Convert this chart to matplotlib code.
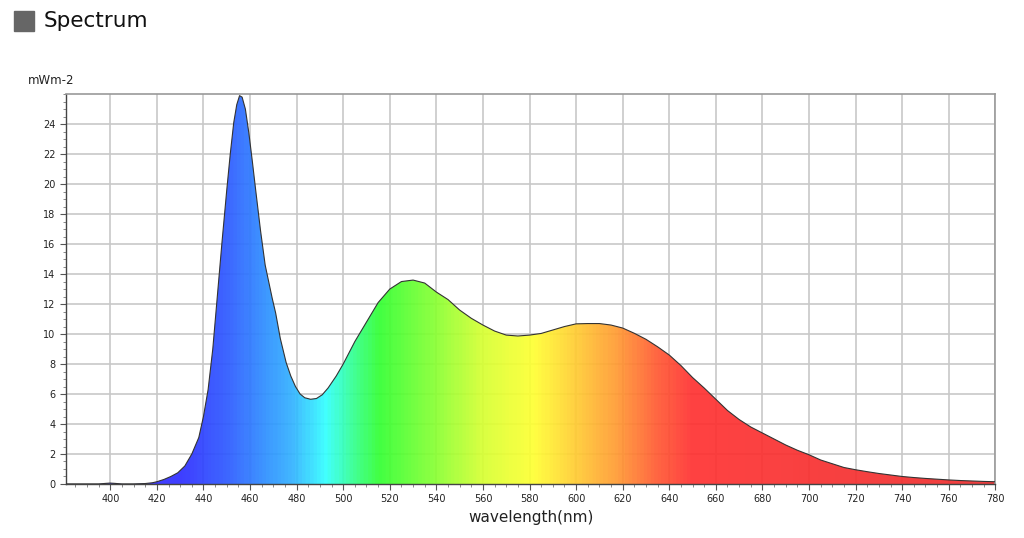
import numpy as np
import matplotlib
matplotlib.use("Agg")
import matplotlib.pyplot as plt
from matplotlib.colors import LinearSegmentedColormap
from matplotlib.patches import Rectangle

# spectrum (nm, mW m-2)
wavelength = [381, 390, 395, 398, 400, 402, 405, 410, 415, 418, 420, 423, 426,
              429, 432, 435, 438, 440, 442, 444, 446, 448, 450, 451.5, 453,
              454.3, 455.5, 456.6, 458, 459.5, 461, 462.5, 464.5, 466.5, 468,
              469.5, 471, 473, 475.5, 477.5, 479.5, 481.5, 483.5, 486, 488.5,
              491, 493.5, 497, 500, 505, 510, 515, 520, 525, 530, 535, 540,
              545, 550, 555, 560, 565, 570, 575, 580, 585, 590, 595, 600, 605,
              610, 615, 620, 625, 630, 635, 640, 645, 650, 655, 660, 665, 670,
              675, 680, 685, 690, 695, 700, 705, 710, 715, 720, 725, 730, 735,
              740, 745, 750, 755, 760, 765, 770, 775, 780]
power = [0.0, 0.0, 0.0, 0.04, 0.06, 0.04, 0.0, 0.0, 0.03, 0.08, 0.15, 0.3, 0.5,
         0.75, 1.2, 2.0, 3.1, 4.5, 6.3, 9.0, 12.6, 16.2, 19.6, 22.0, 24.1,
         25.3, 25.9, 25.8, 25.0, 23.4, 21.5, 19.5, 16.9, 14.6, 13.5, 12.4,
         11.4, 9.7, 8.1, 7.2, 6.5, 6.0, 5.75, 5.65, 5.7, 5.95, 6.4, 7.2, 8.0,
         9.5, 10.8, 12.1, 13.0, 13.5, 13.6, 13.4, 12.8, 12.3, 11.6, 11.05,
         10.6, 10.2, 9.93, 9.87, 9.93, 10.04, 10.27, 10.5, 10.68, 10.7, 10.7,
         10.6, 10.4, 10.05, 9.65, 9.15, 8.6, 7.9, 7.1, 6.4, 5.65, 4.9, 4.3,
         3.8, 3.4, 3.0, 2.6, 2.25, 1.95, 1.6, 1.35, 1.1, 0.95, 0.82, 0.7, 0.6,
         0.5, 0.43, 0.37, 0.32, 0.27, 0.23, 0.2, 0.17, 0.15]

# fill colour by wavelength
color_nm = [381, 430, 450, 465, 478, 492, 503, 515, 540, 560, 582, 600, 618,
            635, 650, 780]
color_hex = ["#3a2cff", "#3030ff", "#2e5cff", "#2e8cff", "#33b4ff", "#33ffff",
             "#33ff99", "#33ff33", "#8cff33", "#d8ff33", "#ffff33", "#ffcc33",
             "#ff9933", "#ff5a33", "#ff3333", "#ee3030"]

x_ticks = list(range(400, 781, 20))
y_ticks = list(range(0, 25, 2))

fig = plt.figure(figsize=(10.24, 5.38), dpi=100)
ax = fig.add_axes([0.0645, 0.1004, 0.9075, 0.7246])

x_min, x_max = 381, 780
y_min, y_max = 0, 26

# gradient clipped to the area under the curve
pos = [(w - x_min) / (x_max - x_min) for w in color_nm]
cmap = LinearSegmentedColormap.from_list("spec", list(zip(pos, color_hex)))
grad = np.linspace(0, 1, 800).reshape(1, -1)
img = ax.imshow(grad, cmap=cmap, aspect="auto", alpha=0.93,
                extent=(x_min, x_max, y_min, y_max), origin="lower", zorder=2)
area = ax.fill_between(wavelength, power, 0, color="none", zorder=2)
img.set_clip_path(area.get_paths()[0], transform=ax.transData)
ax.plot(wavelength, power, color="#333333", linewidth=0.8, zorder=3)

ax.set_xlim(x_min, x_max)
ax.set_ylim(y_min, y_max)
ax.set_xticks(x_ticks)
ax.set_yticks(y_ticks)
ax.set_xticks(range(385, 781, 5), minor=True)
ax.set_yticks(np.arange(0, 26.01, 0.5), minor=True)
ax.grid(True, which="major", color="#c8c8c8", linewidth=1.2, zorder=1)
ax.set_axisbelow(True)
ax.tick_params(axis="both", which="major", labelsize=7, colors="#555555",
               labelcolor="#222222", length=4, width=0.8)
ax.tick_params(axis="both", which="minor", colors="#777777", length=2,
               width=0.6)
for side in ["top", "right"]:
    ax.spines[side].set_color("#999999")
    ax.spines[side].set_linewidth(1.2)
for side in ["left", "bottom"]:
    ax.spines[side].set_color("#444444")
    ax.spines[side].set_linewidth(1.0)

ax.set_xlabel("wavelength(nm)", fontsize=11, color="#222222", labelpad=4)
fig.text(28 / 1024, 1 - 80 / 538, "mWm-2", fontsize=8.5, color="#222222",
         va="center", ha="left")

# header
fig.patches.append(Rectangle((14 / 1024, 1 - 31 / 538), 20 / 1024, 20 / 538,
                             transform=fig.transFigure, color="#666666"))
fig.text(44 / 1024, 1 - 21 / 538, "Spectrum", fontsize=15.5, color="#111111",
         va="center", ha="left")

fig.savefig("out.png", dpi=100)
